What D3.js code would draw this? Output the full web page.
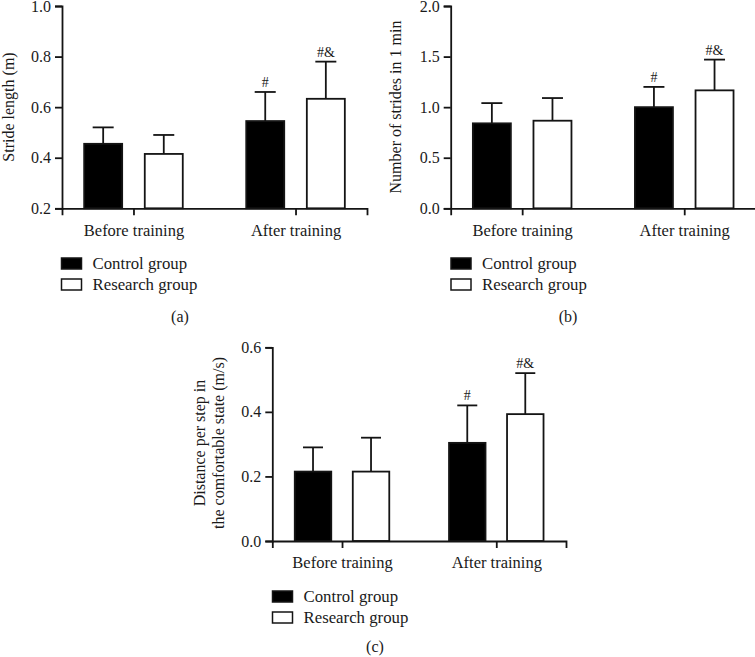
<!DOCTYPE html>
<html>
<head>
<meta charset="utf-8">
<script src="https://cdn.jsdelivr.net/npm/d3@7/dist/d3.min.js"></script>
<style>
  html, body { margin: 0; padding: 0; background: #fff; }
  svg { display: block; }
</style>
</head>
<body>
<svg id="chart" width="755" height="657" font-family="Liberation Serif"></svg>
<script>
// ---------- data ----------
const categories = ["Before training", "After training"];
const groups = ["Control group", "Research group"];

// (a) Stride length (m)
const strideControl = [0.455, 0.545];
const strideControlSD = [0.065, 0.115];
const strideResearch = [0.415, 0.633];
const strideResearchSD = [0.075, 0.147];
const strideTicks = [0.2, 0.4, 0.6, 0.8, 1.0];

// (b) Number of strides in 1 min
const stridesControl = [0.84, 1.00];
const stridesControlSD = [0.20, 0.20];
const stridesResearch = [0.866, 1.166];
const stridesResearchSD = [0.224, 0.304];
const stridesTicks = [0.0, 0.5, 1.0, 1.5, 2.0];

// (c) Distance per step in the comfortable state (m/s)
const distControl = [0.215, 0.304];
const distControlSD = [0.075, 0.116];
const distResearch = [0.215, 0.393];
const distResearchSD = [0.105, 0.127];
const distTicks = [0.0, 0.2, 0.4, 0.6];

// significance markers
const markersControl = ["", "#"];
const markersResearch = ["", "#&"];

const panelLabels = ["(a)", "(b)", "(c)"];

// ---------- drawing ----------
const FONT = "Liberation Serif";
const svg = d3.select("#chart");
const INK = "#141414";
const TXT = "#1a1a1a";
const fillFor = {"Control group": "#000", "Research group": "#fff"};

function txt(sel) {
  return sel.attr("font-family", FONT).attr("fill", TXT);
}

function drawPanel(cfg) {
  const g = svg.append("g").attr("font-family", FONT);
  const y = d3.scaleLinear().domain([cfg.ticks[0], cfg.ticks[cfg.ticks.length - 1]])
    .range([cfg.y0, cfg.y1]);
  const x = d3.scalePoint().domain(categories).range([cfg.x0, cfg.x1]).padding(cfg.pad);
  const gx = d3.scaleBand().domain(groups).range([-cfg.half, cfg.half])
    .paddingInner(cfg.inner).paddingOuter(0);

  const rows = [];
  categories.forEach((c, i) => {
    rows.push({cat: c, grp: groups[0], v: cfg.control[i], sd: cfg.controlSD[i], m: markersControl[i]});
    rows.push({cat: c, grp: groups[1], v: cfg.research[i], sd: cfg.researchSD[i], m: markersResearch[i]});
  });

  const cx = d => x(d.cat) + gx(d.grp) + gx.bandwidth() / 2;
  g.selectAll(".err").data(rows).enter().append("line")
    .attr("x1", cx).attr("x2", cx)
    .attr("y1", d => y(d.v)).attr("y2", d => y(d.v + d.sd))
    .attr("stroke", INK).attr("stroke-width", 1.8);
  g.selectAll(".cap").data(rows).enter().append("line")
    .attr("x1", d => cx(d) - cfg.cap / 2).attr("x2", d => cx(d) + cfg.cap / 2)
    .attr("y1", d => y(d.v + d.sd)).attr("y2", d => y(d.v + d.sd))
    .attr("stroke", INK).attr("stroke-width", 1.8);

  g.selectAll(".bar").data(rows).enter().append("rect")
    .attr("x", d => x(d.cat) + gx(d.grp))
    .attr("width", gx.bandwidth())
    .attr("y", d => y(d.v))
    .attr("height", d => y(cfg.ticks[0]) - y(d.v))
    .attr("fill", d => fillFor[d.grp])
    .attr("stroke", INK).attr("stroke-width", 1.8);

  txt(g.selectAll(".mk").data(rows.filter(d => d.m)).enter().append("text"))
    .attr("x", cx).attr("y", d => y(d.v + d.sd) - 5)
    .attr("text-anchor", "middle").attr("font-size", 14).text(d => d.m);

  const ya = g.append("g").attr("transform", `translate(${cfg.x0},0)`)
    .call(d3.axisLeft(y).tickValues(cfg.ticks).tickFormat(d3.format(".1f"))
      .tickSizeOuter(0).tickSize(7).tickPadding(4));
  const xa = g.append("g").attr("transform", `translate(0,${cfg.y0})`)
    .call(d3.axisBottom(x).tickSizeOuter(0).tickSize(7).tickPadding(5));
  [ya, xa].forEach(a => {
    a.attr("font-family", FONT).attr("font-size", 16);
    a.selectAll("path, line").attr("stroke", INK).attr("stroke-width", 1.8);
    txt(a.selectAll("text")).attr("font-size", 16);
  });
  xa.selectAll("text").attr("font-size", 16.5).attr("dy", "0.93em");

  const yl = txt(g.append("text"))
    .attr("transform", `translate(${cfg.ylx},${cfg.yly}) rotate(-90)`)
    .attr("text-anchor", "middle").attr("font-size", 16);
  cfg.ylabel.forEach((t, i) => {
    yl.append("tspan").attr("x", 0).attr("dy", i === 0 ? 0 : 18.5).text(t);
  });

  groups.forEach((grp, i) => {
    g.append("rect")
      .attr("x", cfg.lx).attr("y", cfg.ly + i * 21)
      .attr("width", 20).attr("height", 11)
      .attr("fill", fillFor[grp]).attr("stroke", INK).attr("stroke-width", 1.5);
    txt(g.append("text")).attr("x", cfg.lx + 31).attr("y", cfg.ly + 10.5 + i * 21)
      .attr("font-size", 16.8).text(grp);
  });

  txt(g.append("text")).attr("x", cfg.px).attr("y", cfg.py)
    .attr("text-anchor", "middle").attr("font-size", 16).text(cfg.label);
}

drawPanel({
  control: strideControl, controlSD: strideControlSD,
  research: strideResearch, researchSD: strideResearchSD,
  ticks: strideTicks,
  x0: 62, x1: 367, y0: 208.3, y1: 6, pad: 0.441, half: 49.3, inner: 0.373, cap: 21,
  ylabel: ["Stride length (m)"], ylx: 14, yly: 107,
  lx: 61.5, ly: 258, px: 180, py: 322, label: panelLabels[0]
});

drawPanel({
  control: stridesControl, controlSD: stridesControlSD,
  research: stridesResearch, researchSD: stridesResearchSD,
  ticks: stridesTicks,
  x0: 450.7, x1: 755.7, y0: 208.3, y1: 6, pad: 0.441, half: 49.3, inner: 0.373, cap: 21,
  ylabel: ["Number of strides in 1 min"], ylx: 401, yly: 107,
  lx: 451, ly: 258, px: 568, py: 322, label: panelLabels[1]
});

drawPanel({
  control: distControl, controlSD: distControlSD,
  research: distResearch, researchSD: distResearchSD,
  ticks: distTicks,
  x0: 272.3, x1: 566, y0: 541, y1: 347.3, pad: 0.452, half: 47.25, inner: 0.371, cap: 20,
  ylabel: ["Distance per step in", "the comfortable state (m/s)"], ylx: 205, yly: 443,
  lx: 272.5, ly: 591, px: 375, py: 652, label: panelLabels[2]
});
</script>
</body>
</html>
